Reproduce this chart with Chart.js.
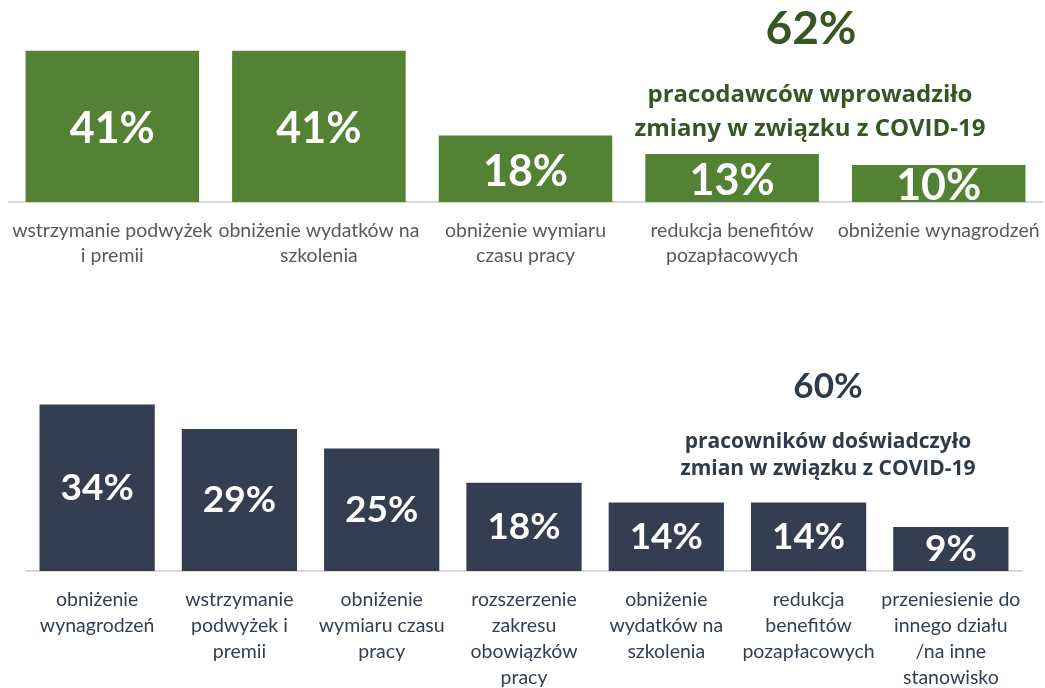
<!DOCTYPE html>
<html>
<head>
<meta charset="utf-8">
<script src="https://cdn.jsdelivr.net/npm/chart.js@4.4.0/dist/chart.umd.min.js"></script>
<style>
    body { margin: 0; background: #fff; width: 1045px; height: 688px; overflow: hidden; position: relative; }
    canvas { position: absolute; left: 0; }
    #topChart { top: 0; }
    #bottomChart { top: 290px; }
    .head { position: absolute; text-align: center; font-family: Lato, sans-serif; font-weight: bold; white-space: nowrap; z-index: 2; }
    .sub { font-family: 'Open Sans', sans-serif; }
    .green { color: #375623; }
    .navy { color: #2f3a4a; }
</style>
</head>
<body>
<canvas id="topChart" width="1045" height="290"></canvas>
<canvas id="bottomChart" width="1045" height="398"></canvas>

<div class="head green" style="left:611px;width:400px;top:2px;font-size:46px;line-height:50px;">62%</div>
<div class="head sub green" style="left:610px;width:400px;top:76px;font-size:24px;line-height:34px;">pracodawców wprowadziło<br>zmiany w związku z COVID-19</div>

<div class="head navy" style="left:628px;width:400px;top:364px;font-size:35px;line-height:40px;">60%</div>
<div class="head sub navy" style="left:628px;width:400px;top:427px;font-size:21px;line-height:27px;">pracowników doświadczyło<br>zmian w związku z COVID-19</div>

<script>
// top chart: employers
const topLabels = [
    ['wstrzymanie podwyżek', 'i premii'],
    ['obniżenie wydatków na', 'szkolenia'],
    ['obniżenie wymiaru', 'czasu pracy'],
    ['redukcja benefitów', 'pozapłacowych'],
    ['obniżenie wynagrodzeń']
];
const topValues = [41, 41, 18, 13, 10];

// bottom chart: employees
const bottomLabels = [
    ['obniżenie', 'wynagrodzeń'],
    ['wstrzymanie', 'podwyżek i', 'premii'],
    ['obniżenie', 'wymiaru czasu', 'pracy'],
    ['rozszerzenie', 'zakresu', 'obowiązków', 'pracy'],
    ['obniżenie', 'wydatków na', 'szkolenia'],
    ['redukcja', 'benefitów', 'pozapłacowych'],
    ['przeniesienie do', 'innego działu', '/na inne', 'stanowisko']
];
const bottomValues = [34, 29, 25, 18, 14, 14, 9];

// white % labels in the middle of each bar
const valueLabels = {
    id: 'valueLabels',
    afterDatasetsDraw(chart, args, opts) {
        const ctx = chart.ctx;
        const meta = chart.getDatasetMeta(0);
        const values = chart.data.datasets[0].data;
        ctx.save();
        ctx.font = `bold ${opts.size}px Lato, sans-serif`;
        ctx.fillStyle = '#ffffff';
        ctx.textAlign = 'center';
        ctx.textBaseline = 'middle';
        meta.data.forEach((bar, i) => {
            ctx.fillText(values[i] + '%', bar.x, (bar.y + bar.base) / 2 + opts.shift);
        });
        ctx.restore();
    }
};

function makeChart(id, labels, values, cfg) {
    return new Chart(document.getElementById(id), {
        type: 'bar',
        data: {
            labels: labels,
            datasets: [{
                data: values,
                backgroundColor: cfg.color,
                borderWidth: 0,
                barPercentage: cfg.barPct,
                categoryPercentage: 1.0
            }]
        },
        options: {
            responsive: false,
            animation: false,
            layout: { padding: cfg.padding },
            scales: {
                x: {
                    grid: { display: false, drawTicks: false },
                    border: { display: true, color: '#d9d9d9', width: 2 },
                    ticks: {
                        autoSkip: false,
                        maxRotation: 0,
                        minRotation: 0,
                        padding: cfg.tickPad,
                        color: cfg.textColor,
                        font: { family: 'Lato, sans-serif', size: 19.5, lineHeight: cfg.lineHeight }
                    },
                    afterFit(scale) {
                        // keep the plot area fixed, labels may spill to the edges
                        scale.height = cfg.axisHeight;
                        scale.paddingLeft = 0;
                        scale.paddingRight = 0;
                    }
                },
                y: { display: false, min: 0, max: cfg.max }
            },
            plugins: {
                legend: { display: false },
                tooltip: { enabled: false },
                valueLabels: { size: cfg.valueSize, shift: cfg.valueShift }
            }
        },
        plugins: [valueLabels]
    });
}

makeChart('topChart', topLabels, topValues, {
    color: '#548235',
    barPct: 0.84,
    padding: { left: 9, right: 3, top: 36, bottom: 0 },
    max: 45,
    axisHeight: 88,
    tickPad: 16,
    lineHeight: 1.28,
    textColor: '#595959',
    valueSize: 43,
    valueShift: 3
});

makeChart('bottomChart', bottomLabels, bottomValues, {
    color: '#333f50',
    barPct: 0.81,
    padding: { left: 26, right: 23, top: 85, bottom: 0 },
    max: 40,
    axisHeight: 117,
    tickPad: 16,
    lineHeight: 1.33,
    textColor: '#333f50',
    valueSize: 37,
    valueShift: 0
});
</script>
</body>
</html>
